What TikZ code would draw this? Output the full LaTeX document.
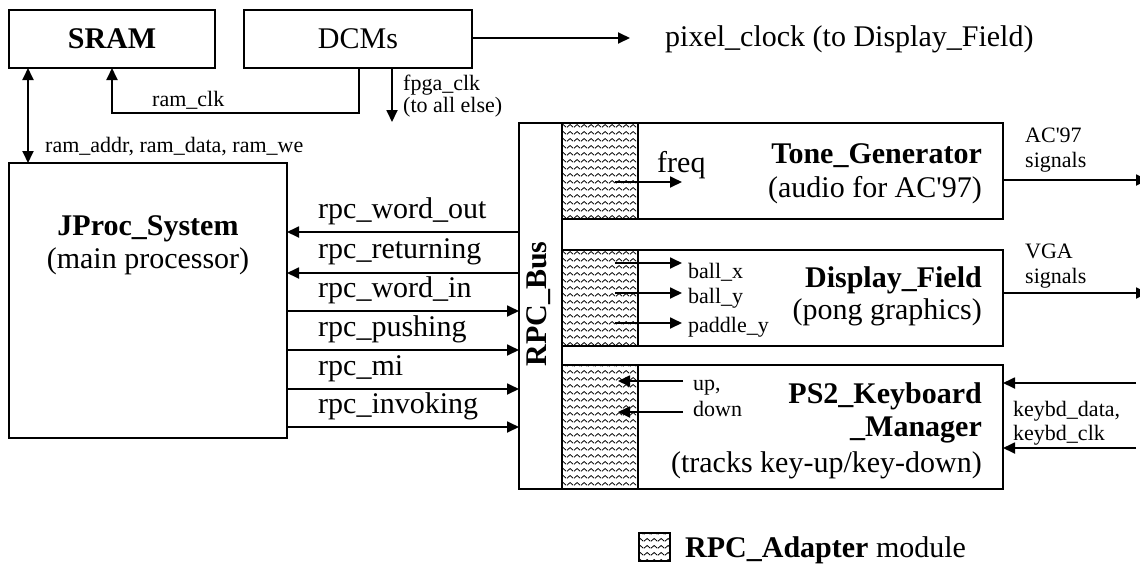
\documentclass[tikz,border=0pt]{standalone}
\usepackage{fontspec}
\setmainfont{Liberation Serif}
\usetikzlibrary{arrows.meta,patterns}

\pgfdeclarepatternformonly{waves}{\pgfpointorigin}{\pgfpoint{7pt}{7pt}}{\pgfpoint{7pt}{7pt}}{
  \pgfsetlinewidth{0.9pt}
  \pgfpathmoveto{\pgfpoint{0pt}{2pt}}
  \pgfpathcurveto{\pgfpoint{1.75pt}{2pt}}{\pgfpoint{1.75pt}{5pt}}{\pgfpoint{3.5pt}{5pt}}
  \pgfpathcurveto{\pgfpoint{5.25pt}{5pt}}{\pgfpoint{5.25pt}{2pt}}{\pgfpoint{7pt}{2pt}}
  \pgfusepath{stroke}
}

\begin{document}
\begin{tikzpicture}[x=1pt,y=-1pt,
  box/.style={draw, line width=1.8pt, rectangle, inner sep=0pt, outer sep=0pt},
  big/.style={font=\fontsize{30}{34}\selectfont, inner sep=0pt},
  small/.style={font=\fontsize{22}{25}\selectfont, inner sep=0pt},
  sig/.style={line width=1.8pt, -{Triangle[length=12pt,width=11pt]}},
  dsig/.style={line width=1.8pt, {Triangle[length=12pt,width=11pt]}-{Triangle[length=12pt,width=11pt]}},
  hatchbox/.style={draw, line width=1.5pt, pattern=waves}]

\path[fill=white, use as bounding box] (0,0) rectangle (1140,563);

% boxes
\node[box, minimum width=206, minimum height=58] (sram) at (112,39) {};
\node[box, minimum width=228, minimum height=58] (dcms) at (358,39) {};
\node[box, minimum width=278, minimum height=275] (jproc) at (148,300.5) {};

\fill[white] (519,123) rectangle (1003,489);
\draw[hatchbox] (562,123) rectangle (638,219);
\draw[hatchbox] (562,250) rectangle (638,346);
\draw[hatchbox] (562,365) rectangle (638,489);
\node[box, minimum width=43, minimum height=366] (bus) at (540.5,306) {};
\node[box, minimum width=441, minimum height=96] (tone) at (782.5,171) {};
\node[box, minimum width=441, minimum height=96] (disp) at (782.5,298) {};
\node[box, minimum width=441, minimum height=124] (kbd) at (782.5,427) {};

% box texts
\node[big] (sramt) at (sram) {\textbf{SRAM}};
\node[big] (dcmst) at (dcms) {DCMs};
\node[big, anchor=base] (jp1) at (148,235) {\textbf{JProc\_System}};
\node[big, anchor=base] (jp2) at (148,268) {(main processor)};
\node[big, anchor=base, rotate=90] (bust) at (546,304) {\textbf{RPC\_Bus}};

\node[big, anchor=base east] (tg1) at (982,163) {\textbf{Tone\_Generator}};
\node[big, anchor=base east] (tg2) at (982,197) {(audio for AC\textquotesingle 97)};
\node[big, anchor=base east] (df1) at (982,287) {\textbf{Display\_Field}};
\node[big, anchor=base east] (df2) at (982,319) {(pong graphics)};
\node[big, anchor=base east] (kb1) at (982,403) {\textbf{PS2\_Keyboard}};
\node[big, anchor=base east] (kb2) at (982,436) {\textbf{\_Manager}};
\node[big, anchor=base east] (kb3) at (982,472) {(tracks key-up/key-down)};

% top connections
\coordinate (pc) at (630,38);
\draw[sig] (dcms.east |- pc) -- (pc);
\node[big, anchor=base west] (pcl) at (665,46) {pixel\_clock (to Display\_Field)};

\draw[sig] (dcms.south -| 359,0) -- (359,113) -- (112,113) -- (sram.south -| 112,0);
\node[small, anchor=base west] (rcl) at (152,106) {ram\_clk};

\coordinate (fc) at (392,122);
\draw[sig] (dcms.south -| fc) -- (fc);
\node[small, anchor=base west] (fcl1) at (403,90) {fpga\_clk};
\node[small, anchor=base west] (fcl2) at (403,112) {(to all else)};

\draw[dsig] (sram.south -| 28,0) -- (jproc.north -| 28,0);
\node[small, anchor=base west] (ral) at (45,152) {ram\_addr, ram\_data, ram\_we};

% rpc signals
\draw[sig] (bus.west |- 0,232) -- (jproc.east |- 0,232);
\draw[sig] (bus.west |- 0,273) -- (jproc.east |- 0,273);
\draw[sig] (jproc.east |- 0,311) -- (bus.west |- 0,311);
\draw[sig] (jproc.east |- 0,350) -- (bus.west |- 0,350);
\draw[sig] (jproc.east |- 0,389) -- (bus.west |- 0,389);
\draw[sig] (jproc.east |- 0,427) -- (bus.west |- 0,427);
\node[big, anchor=base west] (r1) at (318,218) {rpc\_word\_out};
\node[big, anchor=base west] (r2) at (318,258) {rpc\_returning};
\node[big, anchor=base west] (r3) at (318,297) {rpc\_word\_in};
\node[big, anchor=base west] (r4) at (318,336) {rpc\_pushing};
\node[big, anchor=base west] (r5) at (318,375) {rpc\_mi};
\node[big, anchor=base west] (r6) at (318,413) {rpc\_invoking};

% internal signals
\draw[sig] (615,182) -- (682,182);
\node[big, anchor=base west] (fq) at (657,172) {freq};
\draw[sig] (615,263) -- (682,263);
\draw[sig] (615,293) -- (682,293);
\draw[sig] (615,323) -- (682,323);
\node[small, anchor=base west] (bx) at (688,278) {ball\_x};
\node[small, anchor=base west] (by) at (688,303) {ball\_y};
\node[small, anchor=base west] (py) at (688,332) {paddle\_y};
\draw[sig] (683,381) -- (618,381);
\draw[sig] (683,412) -- (618,412);
\node[small, anchor=base west] (up) at (693,390) {up,};
\node[small, anchor=base west] (dn) at (693,416) {down};

% outputs / inputs at right
\draw[sig] (tone.east |- 0,180) -- (1148,180);
\node[small, anchor=base west] (ac1) at (1025,142) {AC\textquotesingle 97};
\node[small, anchor=base west] (ac2) at (1025,167) {signals};
\draw[sig] (disp.east |- 0,293) -- (1148,293);
\node[small, anchor=base west] (vg1) at (1025,258) {VGA};
\node[small, anchor=base west] (vg2) at (1025,283) {signals};
\draw[sig] (1136,383) -- (kbd.east |- 0,383);
\draw[sig] (1136,448) -- (kbd.east |- 0,448);
\node[small, anchor=base west] (kd1) at (1013,416) {keybd\_data,};
\node[small, anchor=base west] (kd2) at (1013,440) {keybd\_clk};

% legend
\draw[hatchbox] (639,533) rectangle (670,561);
\node[big, anchor=base west] (leg) at (685,557) {\textbf{RPC\_Adapter} module};
\end{tikzpicture}
\end{document}
